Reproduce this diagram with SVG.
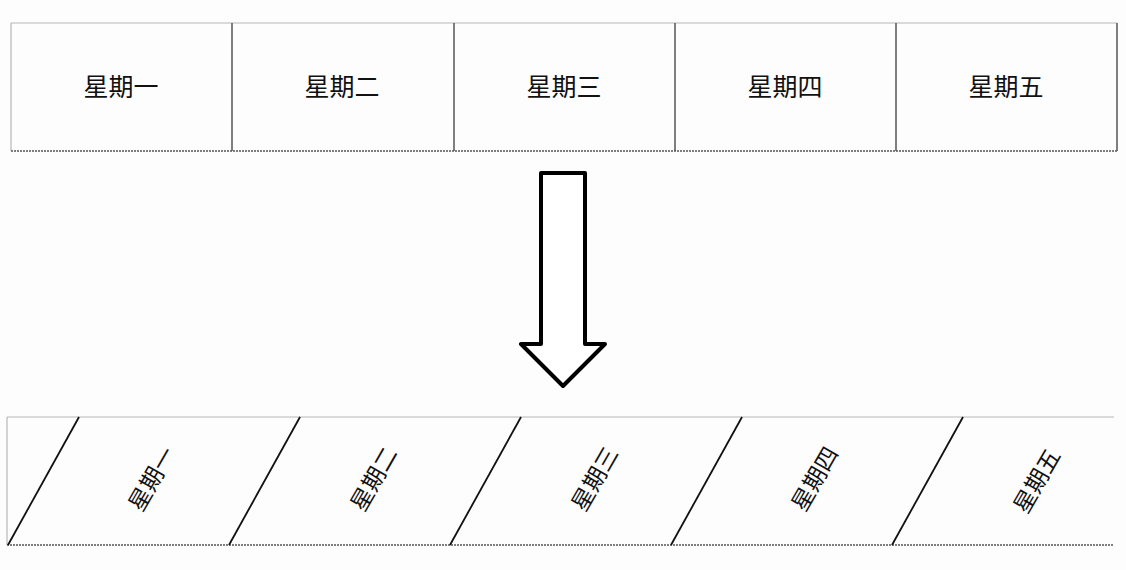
<svg xmlns="http://www.w3.org/2000/svg" width="1126" height="570" viewBox="0 0 1126 570">
<style>
.lbl{font-family:"Liberation Sans","Noto Sans CJK SC",sans-serif;font-size:25px;fill:#111;text-anchor:middle;dominant-baseline:central}
.rl{font-family:"Liberation Sans","Noto Sans CJK SC",sans-serif;font-size:23px;fill:#111;text-anchor:middle;dominant-baseline:central}
.light{stroke:#b8b8b8;stroke-width:1.2;fill:none}
.dark{stroke:#555;stroke-width:1.5;fill:none}
.diag{stroke:#111;stroke-width:1.8;fill:none}
</style>
<rect width="1126" height="570" fill="#fdfdfe"/>
<g id="top-table">
<line class="light" x1="11" y1="23" x2="1117" y2="23"/>
<line class="light" x1="11" y1="23" x2="11" y2="151"/>
<line class="dark" x1="1117" y1="23" x2="1117" y2="151"/>
<line class="dark" x1="11" y1="151" x2="1117" y2="151" stroke-dasharray="2 1"/>
<line class="dark" x1="232" y1="23" x2="232" y2="151"/>
<line class="dark" x1="454" y1="23" x2="454" y2="151"/>
<line class="dark" x1="675" y1="23" x2="675" y2="151"/>
<line class="dark" x1="896" y1="23" x2="896" y2="151"/>
</g>
<g id="t1"><text class="lbl" x="121" y="87">星期一</text></g>
<g id="t2"><text class="lbl" x="342" y="87">星期二</text></g>
<g id="t3"><text class="lbl" x="564" y="87">星期三</text></g>
<g id="t4"><text class="lbl" x="785" y="87">星期四</text></g>
<g id="t5"><text class="lbl" x="1006" y="87">星期五</text></g>
<g id="connectors">
<path id="arrow" d="M541 173 H585 V344 H605 L563 386 L521 344 H541 Z" fill="#fff" stroke="#000" stroke-width="4" stroke-linejoin="round"/>
</g>
<g id="bottom-table">
<line class="light" x1="7" y1="417" x2="1114" y2="417"/>
<line class="light" x1="7" y1="417" x2="7" y2="545"/>
<line class="dark" x1="7" y1="545" x2="1114" y2="545" stroke-dasharray="2 1"/>
<line class="diag" x1="8" y1="545" x2="79" y2="417"/>
<line class="diag" x1="229" y1="545" x2="300" y2="417"/>
<line class="diag" x1="450" y1="545" x2="521" y2="417"/>
<line class="diag" x1="671" y1="545" x2="742" y2="417"/>
<line class="diag" x1="892" y1="545" x2="963" y2="417"/>
</g>
<g id="b1"><text class="rl" transform="translate(152,479) rotate(-60)">星期一</text></g>
<g id="b2"><text class="rl" transform="translate(374,479) rotate(-60)">星期二</text></g>
<g id="b3"><text class="rl" transform="translate(595,479) rotate(-60)">星期三</text></g>
<g id="b4"><text class="rl" transform="translate(815,479) rotate(-60)">星期四</text></g>
<g id="b5"><text class="rl" transform="translate(1037,481) rotate(-60)">星期五</text></g>
</svg>
